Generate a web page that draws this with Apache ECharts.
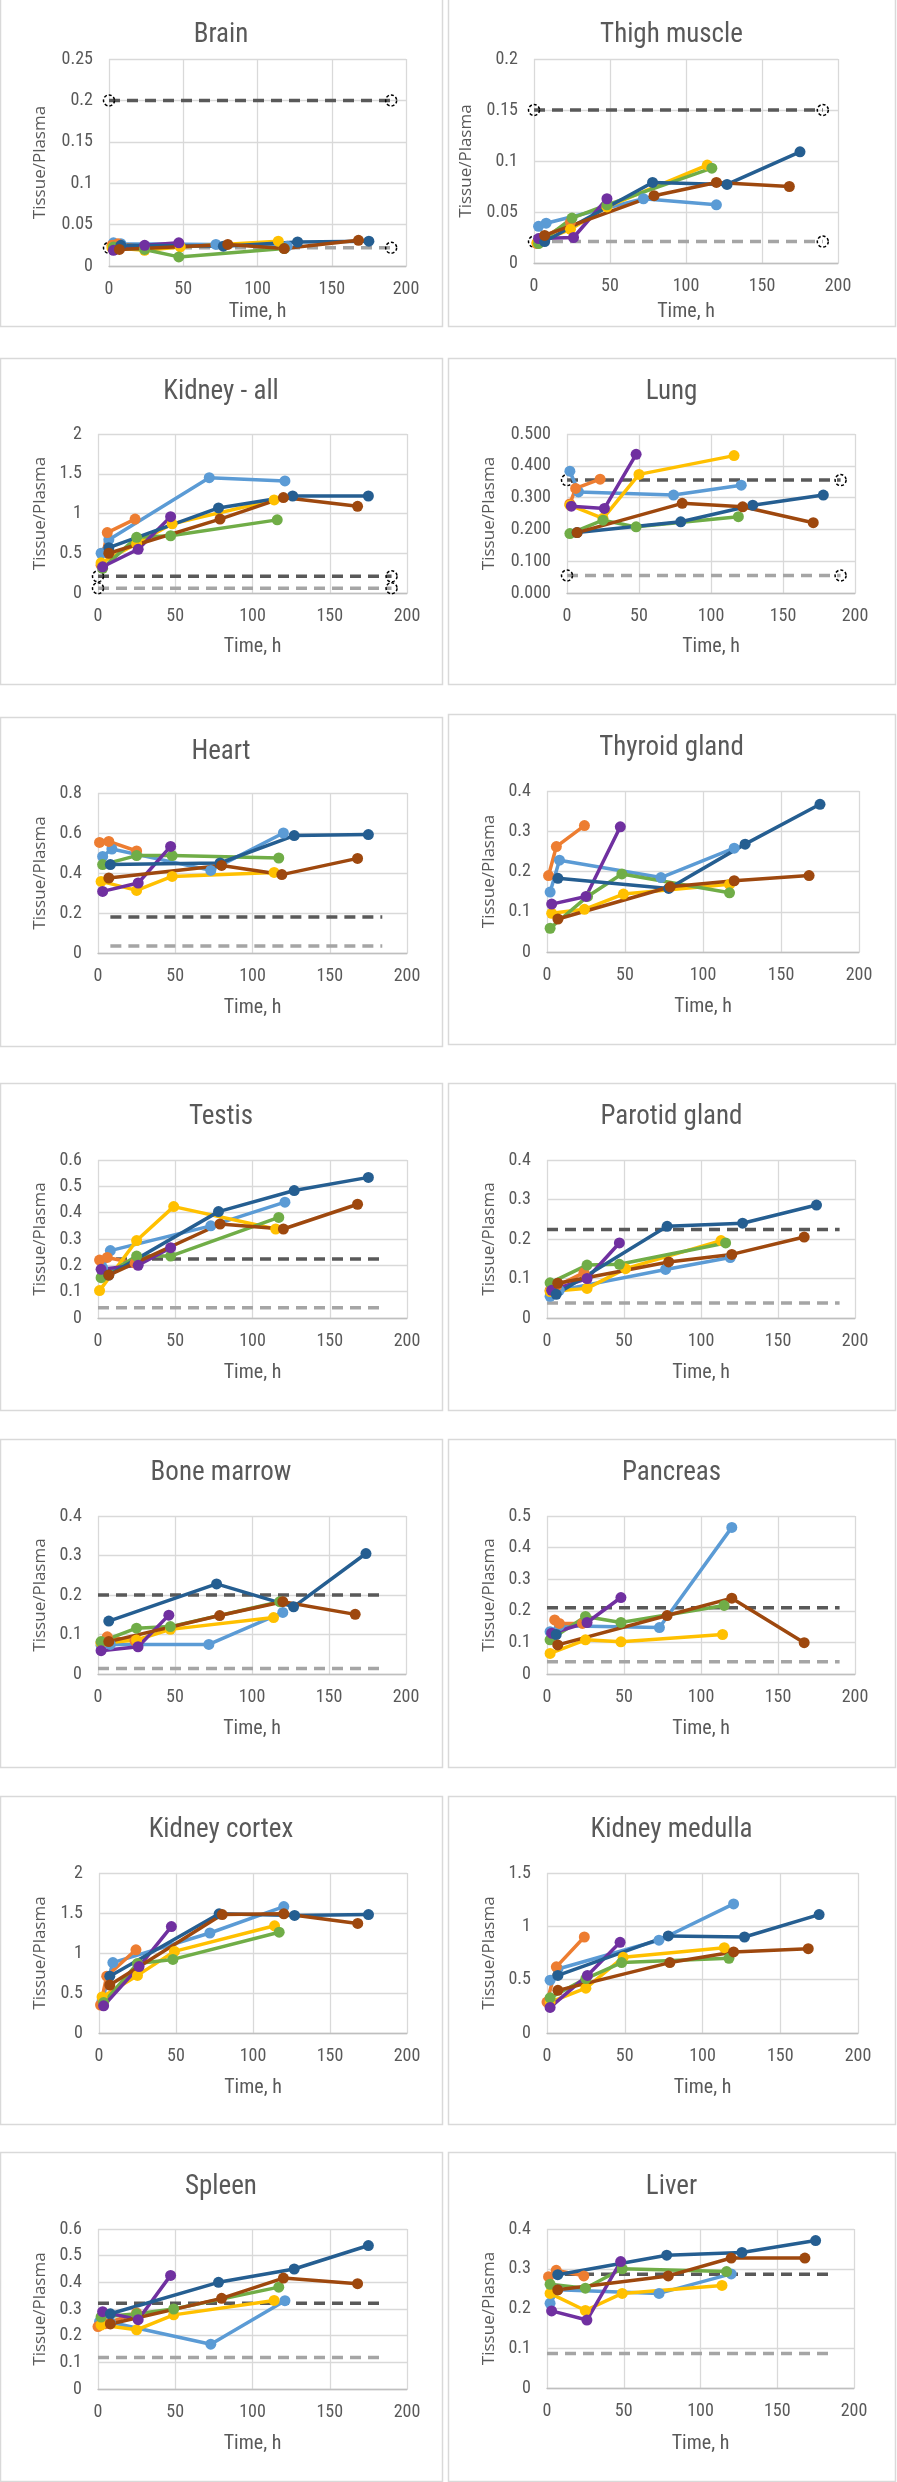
<!DOCTYPE html>
<html><head><meta charset="utf-8">
<script src="https://cdn.jsdelivr.net/npm/echarts@6/dist/echarts.min.js"></script>
<style>html,body{margin:0;padding:0;background:#fff}#c{width:897px;height:2482px}</style>
</head><body><div id="c"></div>
<script>
// ---------- DATA ----------
// series order in every panel: light blue, orange, yellow, green, purple, dark blue, brown
const seriesNames = ['Group A', 'Group B', 'Group C', 'Group D', 'Group E', 'Group F', 'Group G'];
const panelTitles = ['Brain', 'Thigh muscle', 'Kidney - all', 'Lung', 'Heart', 'Thyroid gland', 'Testis',
  'Parotid gland', 'Bone marrow', 'Pancreas', 'Kidney cortex', 'Kidney medulla', 'Spleen', 'Liver'];
const xTicks = ['0', '50', '100', '150', '200'];

const brain = [
  [[3,0.028],[8,0.027],[72,0.026],[120,0.024]],
  [[2,0.025],[6,0.027],[24,0.023]],
  [[2,0.022],[24,0.019],[48,0.023],[114,0.030]],
  [[3,0.023],[24,0.020],[47,0.011],[118,0.021]],
  [[3,0.019],[24,0.025],[47,0.028]],
  [[8,0.025],[77,0.024],[127,0.029],[175,0.030]],
  [[7,0.020],[80,0.026],[118,0.021],[168,0.031]]
];
const thigh = [
  [[3,0.036],[8,0.039],[72,0.063],[120,0.057]],
  [[2,0.019],[6,0.025],[24,0.040]],
  [[2,0.020],[24,0.033],[48,0.055],[114,0.096]],
  [[3,0.019],[25,0.044],[48,0.057],[117,0.093]],
  [[3,0.024],[26,0.025],[48,0.063]],
  [[7,0.021],[78,0.079],[127,0.077],[175,0.109]],
  [[7,0.027],[79,0.066],[120,0.079],[168,0.075]]
];
const kidneyAll = [
  [[2,0.50],[7,0.67],[72,1.45],[121,1.41]],
  [[2,0.35],[6,0.76],[24,0.93]],
  [[2,0.38],[25,0.62],[48,0.87],[114,1.17]],
  [[3,0.31],[25,0.70],[47,0.72],[116,0.92]],
  [[3,0.33],[26,0.55],[47,0.96]],
  [[7,0.57],[78,1.07],[126,1.22],[175,1.22]],
  [[7,0.50],[79,0.93],[120,1.20],[168,1.09]]
];
const lung = [
  [[2,0.383],[8,0.318],[74,0.308],[121,0.339]],
  [[2,0.280],[6,0.329],[23,0.358]],
  [[2,0.276],[25,0.235],[50,0.373],[116,0.432]],
  [[2,0.187],[25,0.229],[48,0.208],[119,0.240]],
  [[3,0.273],[26,0.266],[48,0.436]],
  [[7,0.190],[79,0.224],[129,0.276],[178,0.308]],
  [[7,0.190],[80,0.282],[122,0.271],[171,0.221]]
];
const heart = [
  [[3,0.483],[9,0.520],[73,0.413],[120,0.600]],
  [[1,0.553],[7,0.558],[25,0.510]],
  [[2,0.358],[25,0.313],[48,0.383],[114,0.403]],
  [[3,0.442],[25,0.487],[48,0.487],[117,0.475]],
  [[3,0.308],[26,0.350],[47,0.533]],
  [[8,0.442],[79,0.450],[127,0.587],[175,0.592]],
  [[7,0.375],[80,0.438],[119,0.392],[168,0.473]]
];
const thyroid = [
  [[2,0.149],[8,0.228],[73,0.185],[120,0.258]],
  [[1,0.190],[6,0.262],[24,0.314]],
  [[3,0.096],[24,0.106],[49,0.144],[117,0.168]],
  [[2,0.059],[26,0.138],[48,0.194],[117,0.147]],
  [[3,0.119],[25,0.138],[47,0.311]],
  [[7,0.183],[78,0.158],[127,0.268],[175,0.367]],
  [[7,0.082],[79,0.162],[120,0.177],[168,0.190]]
];
const testis = [
  [[3,0.190],[8,0.256],[73,0.350],[121,0.440]],
  [[1,0.220],[6,0.230],[24,0.208]],
  [[1,0.104],[25,0.294],[49,0.423],[115,0.338]],
  [[2,0.153],[25,0.235],[47,0.235],[117,0.382]],
  [[2,0.185],[26,0.200],[47,0.267]],
  [[7,0.163],[78,0.404],[127,0.484],[175,0.534]],
  [[7,0.163],[79,0.357],[120,0.338],[168,0.432]]
];
const parotid = [
  [[2,0.055],[8,0.070],[77,0.123],[119,0.153]],
  [[2,0.070],[6,0.080],[24,0.115]],
  [[2,0.067],[26,0.075],[51,0.125],[113,0.196]],
  [[2,0.089],[26,0.134],[47,0.136],[116,0.190]],
  [[3,0.070],[26,0.100],[47,0.190]],
  [[6,0.060],[78,0.232],[127,0.240],[175,0.286]],
  [[7,0.088],[79,0.142],[120,0.161],[167,0.205]]
];
const boneMarrow = [
  [[2,0.073],[8,0.075],[72,0.075],[120,0.156]],
  [[2,0.080],[6,0.094],[24,0.084]],
  [[2,0.078],[25,0.086],[47,0.113],[114,0.143]],
  [[2,0.082],[25,0.116],[47,0.120],[118,0.183]],
  [[2,0.059],[26,0.069],[46,0.149]],
  [[7,0.134],[77,0.228],[127,0.170],[174,0.305]],
  [[7,0.082],[79,0.148],[120,0.183],[167,0.151]]
];
const pancreas = [
  [[2,0.134],[8,0.153],[73,0.147],[120,0.464]],
  [[5,0.171],[8,0.160],[23,0.160]],
  [[2,0.065],[25,0.108],[48,0.102],[114,0.125]],
  [[2,0.108],[25,0.182],[48,0.163],[115,0.217]],
  [[3,0.129],[26,0.163],[48,0.242]],
  [[6,0.125]],
  [[7,0.092],[78,0.185],[120,0.240],[167,0.099]]
];
const kidneyCortex = [
  [[2,0.40],[9,0.88],[72,1.25],[120,1.58]],
  [[1,0.35],[5,0.71],[24,1.04]],
  [[2,0.45],[25,0.72],[49,1.02],[114,1.34]],
  [[3,0.38],[25,0.87],[48,0.92],[117,1.26]],
  [[3,0.34],[26,0.83],[47,1.33]],
  [[7,0.71],[78,1.49],[127,1.47],[175,1.48]],
  [[7,0.60],[80,1.48],[120,1.49],[168,1.37]]
];
const kidneyMedulla = [
  [[2,0.495],[7,0.60],[72,0.87],[120,1.21]],
  [[0,0.29],[6,0.62],[24,0.90]],
  [[2,0.29],[25,0.42],[49,0.71],[114,0.80]],
  [[2,0.33],[25,0.51],[48,0.66],[117,0.70]],
  [[2,0.24],[26,0.54],[47,0.85]],
  [[7,0.54],[78,0.91],[127,0.90],[175,1.11]],
  [[7,0.40],[79,0.66],[120,0.76],[168,0.79]]
];
const spleen = [
  [[1,0.253],[8,0.250],[73,0.168],[121,0.331]],
  [[0,0.234],[5,0.245],[25,0.285]],
  [[2,0.240],[25,0.222],[49,0.278],[114,0.332]],
  [[2,0.270],[25,0.282],[49,0.300],[117,0.382]],
  [[3,0.290],[26,0.260],[47,0.426]],
  [[8,0.282],[78,0.400],[127,0.450],[175,0.538]],
  [[8,0.244],[80,0.340],[120,0.416],[168,0.395]]
];
const liver = [
  [[2,0.213],[7,0.247],[73,0.238],[120,0.287]],
  [[1,0.280],[6,0.296],[24,0.282]],
  [[2,0.238],[25,0.195],[49,0.238],[114,0.258]],
  [[2,0.261],[25,0.251],[49,0.300],[117,0.293]],
  [[3,0.194],[26,0.171],[48,0.318]],
  [[7,0.285],[78,0.334],[127,0.341],[175,0.371]],
  [[7,0.247],[79,0.282],[120,0.327],[168,0.327]]
];

// reference levels [upper (dark), lower (light)] and their time span
const brainRef = [0.2, 0.022];      const brainRefX = [0, 190];
const thighRef = [0.15, 0.021];     const thighRefX = [0, 190];
const kidneyAllRef = [0.21, 0.06];  const kidneyAllRefX = [0, 190];
const lungRef = [0.355, 0.055];     const lungRefX = [0, 190];
const heartRef = [0.18, 0.035];     const heartRefX = [8, 184];
const thyroidRef = [];              const thyroidRefX = [];
const testisRef = [0.224, 0.039];   const testisRefX = [0, 183];
const parotidRef = [0.224, 0.038];  const parotidRefX = [0, 190];
const boneMarrowRef = [0.2, 0.014]; const boneMarrowRefX = [0, 183];
const pancreasRef = [0.21, 0.039];  const pancreasRefX = [0, 190];
const kidneyCortexRef = [];         const kidneyCortexRefX = [];
const kidneyMedullaRef = [];        const kidneyMedullaRefX = [];
const spleenRef = [0.322, 0.118];   const spleenRefX = [0, 183];
const liverRef = [0.286, 0.087];    const liverRefX = [0, 184];

// y tick labels per panel
const brainTicks = ['0','0.05','0.1','0.15','0.2','0.25'];
const thighTicks = ['0','0.05','0.1','0.15','0.2'];
const kidneyAllTicks = ['0','0.5','1','1.5','2'];
const lungTicks = ['0.000','0.100','0.200','0.300','0.400','0.500'];
const heartTicks = ['0','0.2','0.4','0.6','0.8'];
const thyroidTicks = ['0','0.1','0.2','0.3','0.4'];
const testisTicks = ['0','0.1','0.2','0.3','0.4','0.5','0.6'];
const parotidTicks = ['0','0.1','0.2','0.3','0.4'];
const boneMarrowTicks = ['0','0.1','0.2','0.3','0.4'];
const pancreasTicks = ['0','0.1','0.2','0.3','0.4','0.5'];
const kidneyCortexTicks = ['0','0.5','1','1.5','2'];
const kidneyMedullaTicks = ['0','0.5','1','1.5'];
const spleenTicks = ['0','0.1','0.2','0.3','0.4','0.5','0.6'];
const liverTicks = ['0','0.1','0.2','0.3','0.4'];

// ---------- LAYOUT / STYLE ----------
const seriesColors = ['#5B9BD5','#ED7D31','#FFC000','#70AD47','#7030A0','#255E91','#9E480E'];
const refColors = ['#595959', '#A5A5A5'];
// [panelX0, panelX1, panelY0, panelY1, gridL, gridR, gridT, gridB, titleY, timeY, yNameX]
const layout = [
  [0,442,-2,326, 109,406,59,266, 35,312,40],
  [448,895,-2,326, 534,838,59,263, 35,312,466],
  [0,442,358,684, 98,407,434,593, 392,647,40],
  [448,895,358,684, 567,855,434,593, 392,647,489],
  [0,442,717,1046, 98,407,793,953, 752,1008,40],
  [448,895,714,1044, 547,859,791,952, 748,1007,489],
  [0,442,1083,1410, 98,407,1160,1318, 1117,1373,40],
  [448,895,1083,1410, 547,855,1160,1318, 1117,1373,489],
  [0,442,1439,1767, 98,406,1516,1674, 1473,1729,40],
  [448,895,1439,1767, 547,855,1516,1674, 1473,1729,489],
  [0,442,1796,2124, 99,407,1873,2033, 1830,2088,40],
  [448,895,1796,2124, 547,858,1873,2033, 1830,2088,489],
  [0,442,2152,2481, 98,407,2229,2389, 2187,2444,40],
  [448,895,2152,2481, 547,854,2229,2388, 2187,2444,489]
];
const panelData = [brain, thigh, kidneyAll, lung, heart, thyroid, testis, parotid, boneMarrow, pancreas, kidneyCortex, kidneyMedulla, spleen, liver];
const panelRefs = [brainRef, thighRef, kidneyAllRef, lungRef, heartRef, thyroidRef, testisRef, parotidRef, boneMarrowRef, pancreasRef, kidneyCortexRef, kidneyMedullaRef, spleenRef, liverRef];
const panelRefX = [brainRefX, thighRefX, kidneyAllRefX, lungRefX, heartRefX, thyroidRefX, testisRefX, parotidRefX, boneMarrowRefX, pancreasRefX, kidneyCortexRefX, kidneyMedullaRefX, spleenRefX, liverRefX];
const panelTicks = [brainTicks, thighTicks, kidneyAllTicks, lungTicks, heartTicks, thyroidTicks, testisTicks, parotidTicks, boneMarrowTicks, pancreasTicks, kidneyCortexTicks, kidneyMedullaTicks, spleenTicks, liverTicks];
const refMarkers = [true, true, true, true, false, false, false, false, false, false, false, false, false, false];

const narrow = "'Liberation Sans Narrow', 'Roboto Condensed', 'DejaVu Sans Condensed', sans-serif";
const txt = '#595959';

const grids = [], xAxes = [], yAxes = [], series = [], graphics = [];
panelTitles.forEach((title, i) => {
  const L = layout[i];
  const ticks = panelTicks[i];
  const interval = parseFloat(ticks[1]);
  const yMax = parseFloat(ticks[ticks.length - 1]);
  grids.push({ left: L[4], top: L[6], width: L[5] - L[4], height: L[7] - L[6], show: false });
  xAxes.push({
    type: 'value', gridIndex: i, min: 0, max: 200, interval: 50,
    axisLine: { show: true, lineStyle: { color: '#bfbfbf', width: 1.3 } },
    axisTick: { show: false },
    splitLine: { show: true, lineStyle: { color: '#d9d9d9', width: 1.3 } },
    axisLabel: { color: txt, fontSize: 18, fontFamily: narrow, margin: 14,
      formatter: v => xTicks[Math.round(v / 50)] }
  });
  yAxes.push({
    type: 'value', gridIndex: i, min: 0, max: yMax, interval: interval,
    axisLine: { show: false }, axisTick: { show: false },
    splitLine: { show: true, lineStyle: { color: '#d9d9d9', width: 1.3 } },
    axisLabel: { color: txt, fontSize: 18, fontFamily: narrow, margin: 16,
      formatter: v => ticks[Math.round(v / interval)] }
  });
  // reference lines
  panelRefs[i].forEach((lvl, k) => {
    const rx = panelRefX[i];
    series.push({
      type: 'line', xAxisIndex: i, yAxisIndex: i, z: 2, silent: true,
      data: [[rx[0], lvl], [rx[1], lvl]],
      lineStyle: { color: refColors[k], width: 3.5, type: [11, 7] },
      symbol: refMarkers[i] ? 'circle' : 'none', symbolSize: 11,
      itemStyle: { color: 'rgba(255,255,255,0)', borderColor: '#000', borderWidth: 1.5, borderType: [3, 2] },
      clip: false, animation: false
    });
  });
  panelData[i].forEach((d, s) => {
    series.push({
      name: seriesNames[s], type: 'line', xAxisIndex: i, yAxisIndex: i, z: 3,
      data: d, symbol: 'circle', symbolSize: 11, showSymbol: true,
      lineStyle: { color: seriesColors[s], width: 3.5 },
      itemStyle: { color: seriesColors[s] },
      clip: false, animation: false, silent: true
    });
  });
  // panel frame and texts
  graphics.push({ type: 'rect', z: -1, shape: { x: L[0] + 0.5, y: L[2] + 0.5, width: L[1] - L[0], height: L[3] - L[2] },
    style: { fill: 'rgba(0,0,0,0)', stroke: '#d9d9d9', lineWidth: 1.5 } });
  graphics.push({ type: 'text', x: (L[0] + L[1]) / 2, y: L[8],
    style: { text: title, fill: txt, font: "27px " + narrow, textAlign: 'center', textVerticalAlign: 'middle' } });
  graphics.push({ type: 'text', x: (L[4] + L[5]) / 2, y: L[9],
    style: { text: 'Time, h', fill: txt, font: "20px " + narrow, textAlign: 'center', textVerticalAlign: 'middle' } });
  graphics.push({ type: 'text', x: L[10], y: (L[6] + L[7]) / 2, rotation: Math.PI / 2,
    style: { text: 'Tissue/Plasma', fill: txt, font: "17px 'Open Sans', 'Liberation Sans', sans-serif", textAlign: 'center', textVerticalAlign: 'middle' } });
});

const chart = echarts.init(document.getElementById('c'), null, { renderer: 'canvas' });
chart.setOption({
  backgroundColor: '#ffffff',
  animation: false,
  grid: grids, xAxis: xAxes, yAxis: yAxes, series: series,
  graphic: { elements: graphics }
});
</script></body></html>
